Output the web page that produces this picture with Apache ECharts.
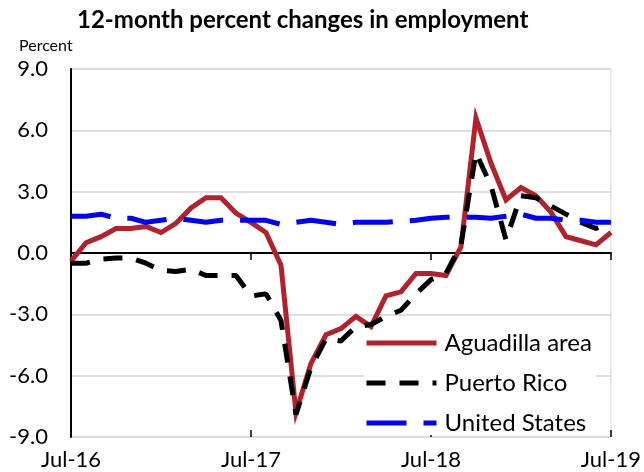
<!DOCTYPE html>
<html>
<head>
<meta charset="utf-8">
<script src="https://cdn.jsdelivr.net/npm/echarts@6/dist/echarts.min.js"></script>
<style>
  html, body { margin: 0; padding: 0; background: #fff; }
  #chart { width: 644px; height: 472px; }
</style>
</head>
<body>
<div id="chart"></div>
<script>
// Monthly periods, Jul-16 through Jul-19
const months = [
  'Jul-16','Aug-16','Sep-16','Oct-16','Nov-16','Dec-16','Jan-17','Feb-17','Mar-17','Apr-17','May-17','Jun-17',
  'Jul-17','Aug-17','Sep-17','Oct-17','Nov-17','Dec-17','Jan-18','Feb-18','Mar-18','Apr-18','May-18','Jun-18',
  'Jul-18','Aug-18','Sep-18','Oct-18','Nov-18','Dec-18','Jan-19','Feb-19','Mar-19','Apr-19','May-19','Jun-19',
  'Jul-19'
];

// 12-month percent change in employment
const aguadilla = [-0.4, 0.5, 0.8, 1.2, 1.2, 1.3, 1.0, 1.45, 2.2, 2.7, 2.7, 1.95, 1.5, 1.0, -0.6, -7.8, -5.4, -4.0, -3.7,
  -3.1, -3.6, -2.1, -1.9, -1.0, -1.0, -1.1, 0.3, 6.6, 4.4, 2.6, 3.2, 2.8, 2.0, 0.8, 0.6, 0.4, 1.0];
const puertoRico = [-0.5, -0.5, -0.3, -0.25, -0.25, -0.5, -0.85, -0.9, -0.8, -1.1, -1.1, -1.1, -2.1, -2.0, -3.3, -7.9, -5.6,
  -4.2, -4.3, -3.6, -3.5, -3.1, -2.8, -2.0, -1.3, -1.0, 0.4, 4.9, 3.3, 0.65, 2.8, 2.7, 2.3, 1.9, 1.5, 1.2, 1.5];
const unitedStates = [1.8, 1.8, 1.9, 1.7, 1.7, 1.5, 1.6, 1.7, 1.6, 1.5, 1.6, 1.6, 1.6, 1.6, 1.4, 1.5, 1.6, 1.5, 1.4,
  1.5, 1.5, 1.5, 1.55, 1.6, 1.7, 1.75, 1.75, 1.75, 1.7, 1.8, 1.9, 1.7, 1.7, 1.6, 1.6, 1.5, 1.5];

const seriesNames = ['Aguadilla area', 'Puerto Rico', 'United States'];
const yTicks = { min: -9, max: 9, step: 3 };

const FONT = 'Lato, "Open Sans", "Liberation Sans", sans-serif';

const chart = echarts.init(document.getElementById('chart'), null, { renderer: 'canvas' });

chart.setOption({
  animation: false,
  backgroundColor: '#fff',
  title: [
    {
      text: '12-month percent changes in employment',
      left: 72, top: 3,
      textStyle: { fontFamily: FONT, fontWeight: 'bold', fontSize: 24, color: '#000' }
    },
    {
      text: 'Percent',
      left: 14, top: 33,
      textStyle: { fontFamily: FONT, fontWeight: 'normal', fontSize: 16, color: '#000' }
    }
  ],
  grid: {
    left: 71, right: 30, top: 69, bottom: 35,
    show: true, borderColor: '#d4d4d4', borderWidth: 1
  },
  legend: {
    orient: 'vertical',
    left: 364, top: 331,
    itemWidth: 70, itemHeight: 14, itemGap: 16,
    backgroundColor: '#fff',
    padding: [0, 4, 0, 0],
    itemStyle: { opacity: 0 },
    lineStyle: { width: 5 },
    textStyle: { fontFamily: FONT, fontSize: 24, color: '#000', lineHeight: 24, padding: [0, 0, 0, 3] },
    data: seriesNames
  },
  xAxis: [
    {
      type: 'category',
      data: months,
      boundaryGap: false,
      axisLine: { onZero: true, lineStyle: { color: '#000', width: 2 } },
      axisTick: { show: true, interval: 11, length: 7, lineStyle: { color: '#000', width: 1.5 } },
      axisLabel: {
        interval: 11, fontFamily: FONT, fontSize: 22, color: '#000',
        margin: 12, verticalAlign: 'top', showMaxLabel: true
      },
      splitLine: { show: false }
    },
    {
      // inward half of the crossing tick marks on the zero line
      type: 'category',
      data: months,
      boundaryGap: false,
      position: 'bottom',
      axisLine: { show: false, onZero: true },
      axisTick: { show: true, inside: true, interval: 11, length: 7, lineStyle: { color: '#000', width: 1.5 } },
      axisLabel: { show: false },
      splitLine: { show: false }
    }
  ],
  yAxis: {
    type: 'value',
    min: yTicks.min, max: yTicks.max, interval: yTicks.step,
    axisLine: { show: true, onZero: false, lineStyle: { color: '#000', width: 2 } },
    axisTick: { show: false },
    axisLabel: {
      fontFamily: FONT, fontSize: 22, color: '#000', margin: 23,
      formatter: v => v.toFixed(1)
    },
    splitLine: { show: true, lineStyle: { color: '#d4d4d4', width: 1.5 } }
  },
  series: [
    {
      name: seriesNames[0], type: 'line', data: aguadilla, symbol: 'none',
      lineStyle: { color: '#B5212A', width: 5, cap: 'butt', join: 'miter' },
      itemStyle: { color: '#B5212A' }
    },
    {
      name: seriesNames[1], type: 'line', data: puertoRico, symbol: 'none',
      lineStyle: { color: '#000', width: 5, type: [19, 14], cap: 'butt' },
      itemStyle: { color: '#000' }
    },
    {
      name: seriesNames[2], type: 'line', data: unitedStates, symbol: 'none',
      lineStyle: { color: '#0000FF', width: 5, type: [40, 17], cap: 'butt' },
      itemStyle: { color: '#0000FF' }
    }
  ]
});
</script>
</body>
</html>
